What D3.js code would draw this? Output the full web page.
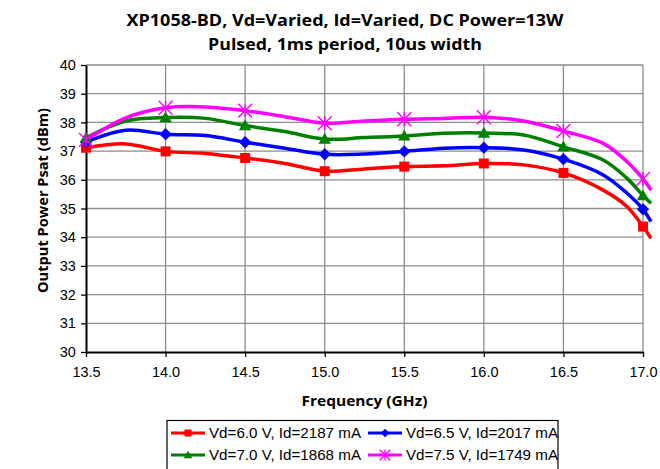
<!DOCTYPE html>
<html><head><meta charset="utf-8">
<script src="https://cdn.jsdelivr.net/npm/d3@7"></script>
<style>body{margin:0;background:#fff}svg{display:block}</style>
</head><body>
<script>
const titleLines = ["XP1058-BD, Vd=Varied, Id=Varied, DC Power=13W", "Pulsed, 1ms period, 10us width"];
const xTicks = [13.5, 14.0, 14.5, 15.0, 15.5, 16.0, 16.5, 17.0];
const yTicks = [30, 31, 32, 33, 34, 35, 36, 37, 38, 39, 40];
const freqs = [13.5, 13.75, 14, 14.25, 14.5, 14.75, 15, 15.25, 15.5, 15.75, 16, 16.25, 16.5, 16.75, 16.9, 17, 17.05];
const markerFreqs = [13.5, 14, 14.5, 15, 15.5, 16, 16.5, 17];
const seriesNames = ["Vd=6.0 V, Id=2187 mA", "Vd=6.5 V, Id=2017 mA", "Vd=7.0 V, Id=1868 mA", "Vd=7.5 V, Id=1749 mA"];
const vd60 = [37.12, 37.25, 36.99, 36.92, 36.76, 36.57, 36.30, 36.38, 36.46, 36.49, 36.57, 36.52, 36.24, 35.64, 35.06, 34.37, 33.96];
const vd65 = [37.32, 37.73, 37.59, 37.54, 37.31, 37.10, 36.89, 36.90, 36.99, 37.10, 37.12, 37.04, 36.72, 36.17, 35.53, 34.97, 34.54];
const vd70 = [37.46, 38.05, 38.17, 38.14, 37.89, 37.68, 37.42, 37.47, 37.53, 37.62, 37.63, 37.56, 37.15, 36.69, 36.05, 35.45, 35.18];
const vd75 = [37.39, 38.16, 38.51, 38.54, 38.41, 38.20, 37.97, 38.05, 38.11, 38.14, 38.18, 38.05, 37.70, 37.27, 36.63, 36.03, 35.64];
const colors = ["#ff0000", "#0000ff", "#008000", "#ff00ff"];
const markers = ["square", "diamond", "triangle", "star"];

const W = 660, H = 469;
const L = 86, R = 643, T = 65, B = 352;
const svg = d3.select("body").append("svg").attr("width", W).attr("height", H);
const x = d3.scaleLinear().domain([13.5, 17.0]).range([L, R]);
const y = d3.scaleLinear().domain([30, 40]).range([B, T]);

// gridlines
const grid = svg.append("g");
grid.selectAll("line.v").data(xTicks.slice(1)).enter().append("line")
  .attr("x1", d => x(d)).attr("x2", d => x(d)).attr("y1", T).attr("y2", B)
  .attr("stroke", "#8c8c8c").attr("stroke-width", 1.3);
grid.selectAll("line.h").data(yTicks.slice(1)).enter().append("line")
  .attr("x1", L).attr("x2", R).attr("y1", d => y(d)).attr("y2", d => y(d))
  .attr("stroke", "#8c8c8c").attr("stroke-width", 1.3);

// axes
const font = "'Liberation Sans', Arial, sans-serif";
const xAxis = svg.append("g").attr("transform", `translate(0,${B})`)
  .call(d3.axisBottom(x).tickValues(xTicks).tickFormat(d3.format(".1f")).tickSize(5).tickSizeOuter(0));
const yAxis = svg.append("g").attr("transform", `translate(${L},0)`)
  .call(d3.axisLeft(y).tickValues(yTicks).tickFormat(d3.format("d")).tickSize(5).tickSizeOuter(0));
[xAxis, yAxis].forEach(a => {
  a.select(".domain").attr("stroke", "#000").attr("stroke-width", 2);
  a.selectAll(".tick line").attr("stroke", "#000").attr("stroke-width", 1.3);
  a.selectAll(".tick text").attr("font-family", font).attr("font-size", 14.5).attr("fill", "#000");
});
xAxis.selectAll(".tick text").attr("dy", "1.2em");
yAxis.selectAll(".tick text").attr("dx", "-0.15em");

// series
const data = [vd60, vd65, vd70, vd75].map((vals, i) => ({
  name: seriesNames[i], color: colors[i], marker: markers[i],
  pts: freqs.map((f, j) => ({f, v: vals[j]}))
}));
const line = d3.line().x(d => x(d.f)).y(d => y(d.v)).curve(d3.curveCatmullRom.alpha(0.5));

function drawMarker(g, type, cx, cy, color, s) {
  if (type === "square") {
    g.append("rect").attr("x", cx - s/2).attr("y", cy - s/2).attr("width", s).attr("height", s).attr("fill", color);
  } else if (type === "diamond") {
    const r = s * 0.62;
    g.append("path").attr("d", `M${cx},${cy-r}L${cx+r},${cy}L${cx},${cy+r}L${cx-r},${cy}Z`).attr("fill", color);
  } else if (type === "triangle") {
    const r = s * 0.62;
    g.append("path").attr("d", `M${cx},${cy-r}L${cx+r},${cy+r*0.75}L${cx-r},${cy+r*0.75}Z`).attr("fill", color);
  } else {
    const r = s * 0.58;
    g.append("path").attr("d", `M${cx-r},${cy-r}L${cx+r},${cy+r}M${cx-r},${cy+r}L${cx+r},${cy-r}M${cx},${cy-r}L${cx},${cy+r}`)
      .attr("stroke", color).attr("stroke-width", 1.4).attr("fill", "none");
  }
}

const sg = svg.append("g");
data.forEach(s => {
  sg.append("path").datum(s.pts).attr("d", line).attr("fill", "none")
    .attr("stroke", s.color).attr("stroke-width", 3.5).attr("stroke-linejoin", "round");
});
data.forEach(s => {
  const mg = sg.append("g");
  s.pts.filter(p => markerFreqs.includes(p.f)).forEach(p => {
    drawMarker(mg, s.marker, x(p.f), y(p.v), s.color, s.marker === "star" ? 12 : 10);
  });
});

// titles
const tfont = "'Open Sans', 'DejaVu Sans', sans-serif";
const titleX = 345;
const t1 = svg.append("text").attr("x", titleX).attr("y", 26).attr("text-anchor", "middle")
  .attr("font-family", tfont).attr("font-weight", "bold").attr("font-size", 15.5).text(titleLines[0]);
const t2 = svg.append("text").attr("x", titleX).attr("y", 50).attr("text-anchor", "middle")
  .attr("font-family", tfont).attr("font-weight", "bold").attr("font-size", 15.5).text(titleLines[1]);
t1.attr("textLength", 437).attr("lengthAdjust", "spacingAndGlyphs");
t2.attr("textLength", 274).attr("lengthAdjust", "spacingAndGlyphs");

svg.append("text").attr("x", (L + R) / 2).attr("y", 406).attr("text-anchor", "middle")
  .attr("font-family", tfont).attr("font-weight", "bold").attr("font-size", 14.5)
  .attr("textLength", 126).attr("lengthAdjust", "spacingAndGlyphs").text("Frequency (GHz)");
svg.append("text").attr("transform", `translate(48,${(T + B) / 2 - 8}) rotate(-90)`).attr("text-anchor", "middle")
  .attr("font-family", tfont).attr("font-weight", "bold").attr("font-size", 14.5)
  .attr("textLength", 185).attr("lengthAdjust", "spacingAndGlyphs").text("Output Power Psat (dBm)");

// legend
const lg = svg.append("g");
lg.append("rect").attr("x", 167).attr("y", 420.5).attr("width", 391).attr("height", 60)
  .attr("fill", "#fff").attr("stroke", "#000").attr("stroke-width", 1.2);
const legPos = [[171, 433], [368, 433], [171, 455], [368, 455]];
data.forEach((s, i) => {
  const [lx, ly] = legPos[i];
  lg.append("line").attr("x1", lx).attr("x2", lx + 34).attr("y1", ly).attr("y2", ly)
    .attr("stroke", s.color).attr("stroke-width", 3.2);
  drawMarker(lg, s.marker, lx + 17, ly, s.color, s.marker === "star" ? 9 : 7);
  lg.append("text").attr("x", lx + 38).attr("y", ly + 5).attr("font-family", font)
    .attr("font-size", 14.5).attr("fill", "#000")
    .attr("textLength", 152).attr("lengthAdjust", "spacingAndGlyphs").text(s.name);
});
</script>
</body></html>
